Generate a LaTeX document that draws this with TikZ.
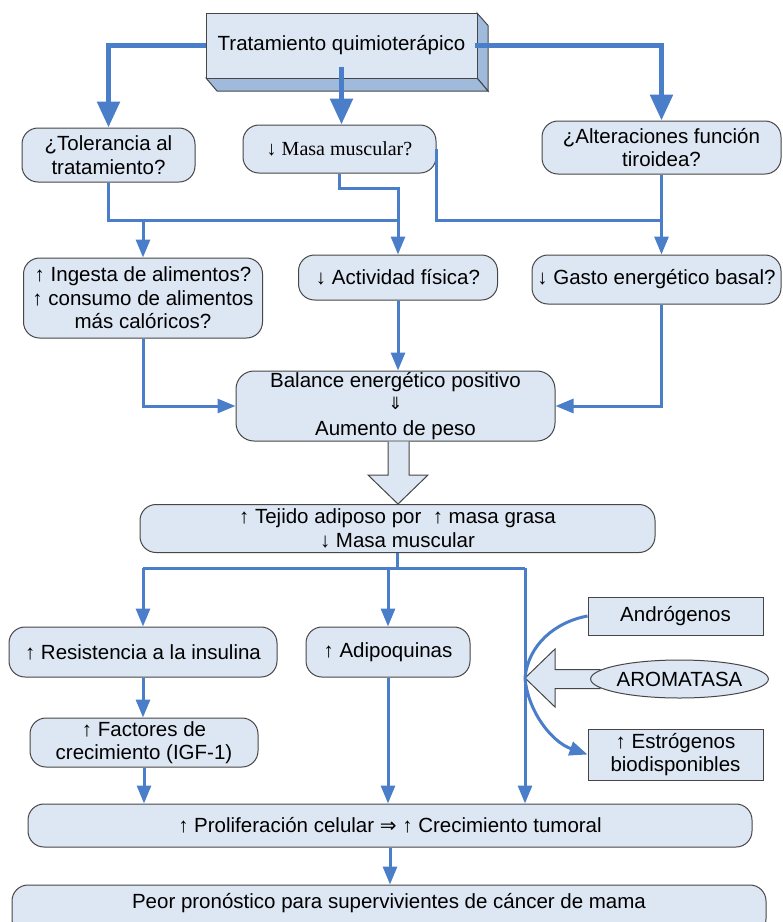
\documentclass[tikz,border=0pt]{standalone}
\usepackage{fontspec}
\setmainfont{Liberation Sans}
\newfontfamily\serifx{Liberation Serif}
\newfontfamily\symf{DejaVu Sans}
\usetikzlibrary{arrows.meta,shapes.geometric,calc}
\definecolor{lineblue}{RGB}{74,126,200}
\definecolor{boxfill}{RGB}{221,230,243}
\definecolor{sidefill}{RGB}{160,186,220}
\definecolor{bordergray}{RGB}{70,70,70}
\begin{document}
\begin{tikzpicture}[x=1pt,y=-1pt,
  box/.style={draw=bordergray, fill=boxfill, line width=1pt, rounded corners=16pt, align=center, inner sep=0pt, font=\fontsize{20.5}{23.5}\selectfont},
  sqbox/.style={box, rounded corners=0pt},
  conn/.style={draw=lineblue, line width=3pt, -{Triangle[length=18pt,width=14pt]}},
  wire/.style={draw=lineblue, line width=3pt},
  thickarr/.style={draw=lineblue, line width=5.5pt, -{Triangle[length=26pt,width=22pt]}},
  hollow/.style={draw=bordergray, fill=boxfill, line width=1pt, line join=miter},
]
\useasboundingbox (0,0) rectangle (783,922);

% 3D top box
\draw[hollow, fill=sidefill] (477,13) -- (488,25.5) -- (488,91) -- (477,78) -- cycle;
\draw[hollow, fill=sidefill] (206,78) -- (217,91) -- (488,91) -- (477,78) -- cycle;
\node[sqbox, minimum width=271pt, minimum height=65pt] (top) at (341.5,45.5) {Tratamiento quimioterápico};

% first row
\node[box, minimum width=173pt, minimum height=54pt] (tol) at (108.5,155) {¿Tolerancia al\\tratamiento?};
\node[box, minimum width=193pt, minimum height=48pt, font=\fontsize{20}{23}\serifx] (masa) at (339.5,149) {↓ Masa muscular?};
\node[box, minimum width=239pt, minimum height=53pt] (alt) at (661.5,147.5) {¿Alteraciones función\\tiroidea?};

% second row
\node[box, minimum width=239pt, minimum height=80pt] (ing) at (143,298) {↑ Ingesta de alimentos?\\↑ consumo de alimentos\\más calóricos?};
\node[box, minimum width=199pt, minimum height=45pt] (act) at (398,277.5) {↓ Actividad física?};
\node[box, minimum width=249pt, minimum height=49pt] (gasto) at (656.5,279.5) {↓ Gasto energético basal?};

% balance
\node[box, minimum width=319pt, minimum height=70pt, rounded corners=18pt] (bal) at (395.5,406) {Balance energético positivo\\[-1pt]{\symf\fontsize{17}{17}\selectfont ⇓}\\[2pt]Aumento de peso};

% tejido
\node[box, minimum width=515pt, minimum height=48pt] (tej) at (397.5,528.5) {↑ Tejido adiposo por \ ↑ masa grasa\\↓ Masa muscular};

% lower nodes
\node[box, minimum width=268pt, minimum height=50pt] (res) at (143,652) {↑ Resistencia a la insulina};
\node[box, minimum width=164pt, minimum height=50pt] (adi) at (388,652) {↑ Adipoquinas};
\node[box, minimum width=228pt, minimum height=49pt] (fac) at (144,742.5) {↑ Factores de\\crecimiento (IGF-1)};
\node[sqbox, minimum width=175pt, minimum height=38pt] (andr) at (675.5,616) {Andrógenos};
\node[sqbox, minimum width=175pt, minimum height=51pt] (estr) at (675.5,754.5) {↑ Estrógenos\\biodisponibles};
\node[box, minimum width=724pt, minimum height=43pt] (pro) at (390,825.5) {↑ Proliferación celular {\symf\fontsize{20}{20}\selectfont ⇒} ↑ Crecimiento tumoral};
\node[box, minimum width=754pt, minimum height=50pt] (peor) at (389,910) {};
\node[font=\fontsize{20.5}{23.5}\selectfont, inner sep=0pt] (peortxt) at (389,903) {Peor pronóstico para supervivientes de cáncer de mama};

% thick arrows from top box
\draw[thickarr] (top.west) -| (tol.north);
\draw[thickarr] ($(top.east)+(-3,0)$) -| (alt.north);
\draw[thickarr] ($(top.south)+(0,-12)$) -- (top.south |- masa.north);

% connectors row 1 -> row 2
\coordinate (jl) at (143,220);
\coordinate (jm) at (398,220);
\coordinate (jr) at (661.5,220);
\draw[wire] (tol.south) |- (jm);
\draw[conn] (jl) -- (jl |- ing.north);
\draw[conn] (masa.south) -- ++(0,15) -| (act.north);
\draw[wire] (masa.east) |- (jr);
\draw[conn] (alt.south) -- (alt.south |- gasto.north);

% row 2 -> balance
\draw[conn] (ing.south) |- (bal.west);
\draw[conn] (act.south) -- (act.south |- bal.north);
\draw[conn] (alt.south |- gasto.south) |- (bal.east);

% hollow arrow balance -> tejido
\fill[boxfill] (388,441.5) -- (388,475) -- (368,475) -- (398,504) -- (428,475) -- (409,475) -- (409,441.5) -- cycle;
\draw[bordergray, line width=1pt, line join=miter] (388,441.5) -- (388,475) -- (368,475) -- (398,504) -- (428,475) -- (409,475) -- (409,441.5);

% tejido -> lower
\coordinate (tl) at (143,568);
\coordinate (tm) at (388,568);
\coordinate (tr) at (525,568);
\draw[wire] (tej.south) -- (tej.south |- tl);
\draw[wire] (tl) -- (tr);
\draw[conn] (tl) -- (res.north);
\draw[conn] (tm) -- (adi.north);
\draw[conn] (tr) -- (tr |- pro.north);
\draw[conn] (res.south) -- (res.south |- fac.north);
\draw[conn] (fac.south) -- (fac.south |- pro.north);
\draw[conn] (adi.south) -- (adi.south |- pro.north);
\draw[conn] (pro.south) -- (pro.south |- peor.north);

% aromatase
\coordinate (ar) at (525,678);
\draw[hollow] (ar) -- (555,649) -- (555,669.5) -- (600,669.5) -- (600,688.5) -- (555,688.5) -- (555,707) -- cycle;
\node[ellipse, draw=bordergray, fill=boxfill, line width=1pt, minimum width=175pt, minimum height=38pt, inner sep=0pt, font=\fontsize{20.5}{23.5}\selectfont] (aro) at (679.5,679) {AROMATASA};
\draw[wire] (andr.west) .. controls (555,622) and (528,645) .. (ar);
\draw[conn] (ar) .. controls (528,712) and (552,742) .. (estr.west);
\end{tikzpicture}
\end{document}
